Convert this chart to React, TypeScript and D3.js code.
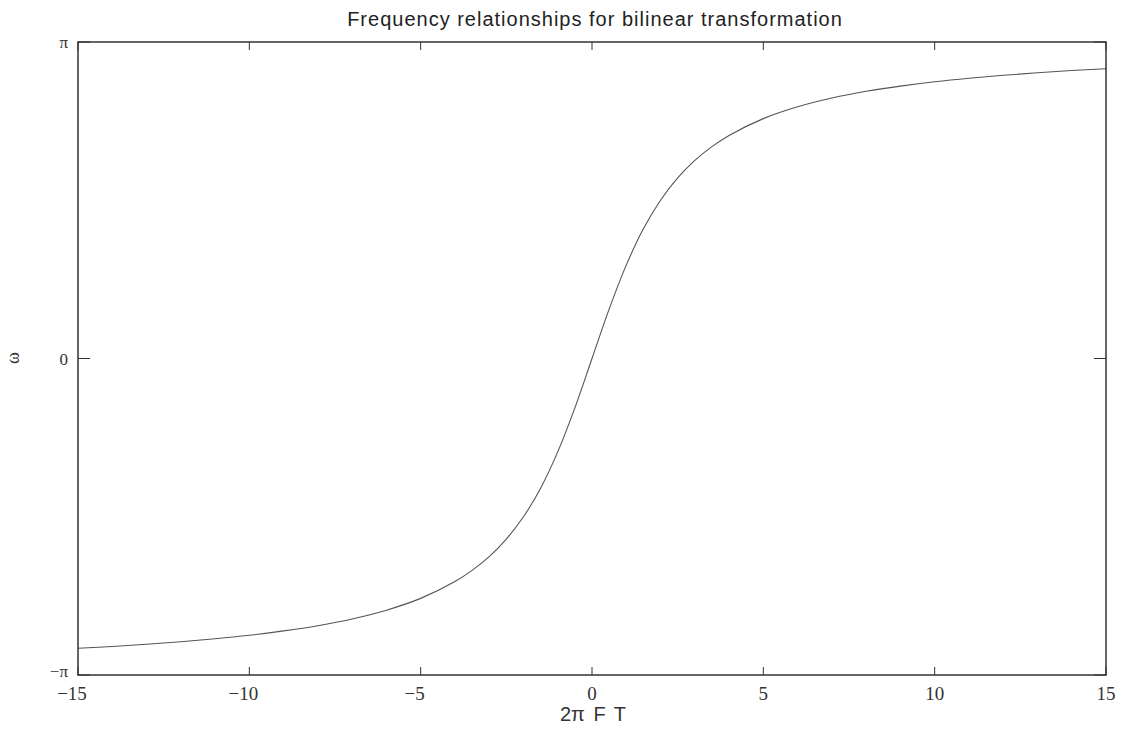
import * as d3 from "d3";

// 2πFT samples
const xs = [
  -15, -14, -13, -12, -11, -10, -9, -8, -7, -6, -5, -4, -3.5, -3, -2.5, -2, -1.5, -1, -0.5,
  0, 0.5, 1, 1.5, 2, 2.5, 3, 3.5, 4, 5, 6, 7, 8, 9, 10, 11, 12, 13, 14, 15,
];
// ω (radians)
const omega = [
  -2.876, -2.858, -2.836, -2.811, -2.782, -2.747, -2.704, -2.652, -2.585, -2.498, -2.381, -2.214, -2.103, -1.966, -1.792, -1.571, -1.287, -0.927, -0.49,
  0, 0.49, 0.927, 1.287, 1.571, 1.792, 1.966, 2.103, 2.214, 2.381, 2.498, 2.585, 2.652, 2.704, 2.747, 2.782, 2.811, 2.836, 2.858, 2.876,
];
const xTicks = [-15, -10, -5, 0, 5, 10, 15];
const yTicks = [-Math.PI, 0, Math.PI];
const yTickLabels = ["\u2212\u03c0", "0", "\u03c0"];

const W = 1123, H = 729;
const left = 78, right = 1106, top = 42, bottom = 675;

export default function App() {
  const x = d3.scaleLinear().domain([-15, 15]).range([left, right]);
  const y = d3.scaleLinear().domain([-Math.PI, Math.PI]).range([bottom, top]);
  const pts = xs.map((v, i) => [v, omega[i]] as [number, number]);
  const line = d3.line<[number, number]>()
    .x(d => x(d[0]))
    .y(d => y(d[1]))
    .curve(d3.curveCatmullRom);

  const serif = "'Liberation Serif', 'DejaVu Serif', serif";
  const sans = "'Liberation Sans', Arial, sans-serif";

  return (
    <svg width={W} height={H} style={{ position: "absolute", left: 0, top: 0, background: "#fff" }}>
      <text x={595} y={26} textAnchor="middle" fontFamily={sans} fontSize={20} letterSpacing={1} fill="#222">
        Frequency relationships for bilinear transformation
      </text>

      <path d={line(pts) || ""} fill="none" stroke="#555" strokeWidth={1.1} />

      {/* ticks on all sides, pointing in */}
      {xTicks.map(t => (
        <g key={"xt" + t}>
          <line x1={x(t)} x2={x(t)} y1={bottom} y2={bottom - 8} stroke="#333" />
          <line x1={x(t)} x2={x(t)} y1={top} y2={top + 8} stroke="#333" />
          <text x={x(t) + (t < 0 ? -6 : 0)} y={700} textAnchor="middle" fontFamily={serif} fontSize={19} fill="#333">
            {t < 0 ? "\u2212" + Math.abs(t) : String(t)}
          </text>
        </g>
      ))}
      {yTicks.map((t, i) => (
        <g key={"yt" + i}>
          <line x1={left} x2={left + 12} y1={y(t)} y2={y(t)} stroke="#333" />
          <line x1={right} x2={right - 12} y1={y(t)} y2={y(t)} stroke="#333" />
          <text x={68} y={y(t) + (i === 0 ? 2 : 6)} textAnchor="end" fontFamily={serif} fontSize={17} fill="#333">
            {yTickLabels[i]}
          </text>
        </g>
      ))}

      <rect x={left} y={top} width={right - left} height={bottom - top} fill="none" stroke="#333" strokeWidth={1.5} />

      <text x={593} y={721} textAnchor="middle" fontFamily={sans} fontSize={20} wordSpacing={3} fill="#333">
        2{"\u03c0"} F T
      </text>
      <text transform="translate(19,358) rotate(-90)" textAnchor="middle" fontFamily={serif} fontSize={18} fill="#333">
        {"\u03c9"}
      </text>
    </svg>
  );
}
